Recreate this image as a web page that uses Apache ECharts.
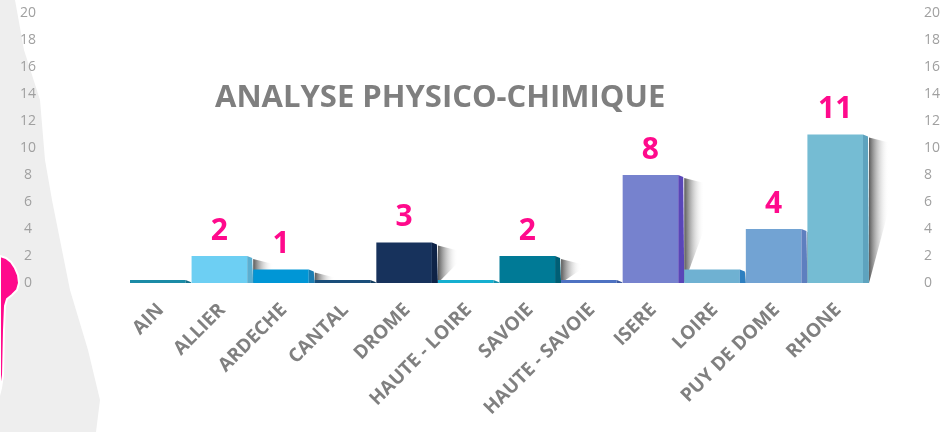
<!DOCTYPE html>
<html>
<head>
<meta charset="utf-8">
<script src="https://cdn.jsdelivr.net/npm/echarts@6/dist/echarts.min.js"></script>
<style>
  html, body { margin: 0; padding: 0; background: #ffffff; }
  #chart { width: 943px; height: 432px; }
</style>
</head>
<body>
<div id="chart"></div>
<script>
// Départements analysés
const categories = ['AIN', 'ALLIER', 'ARDECHE', 'CANTAL', 'DROME', 'HAUTE - LOIRE',
  'SAVOIE', 'HAUTE - SAVOIE', 'ISERE', 'LOIRE', 'PUY DE DOME', 'RHONE'];
// Nombre d'analyses physico-chimiques par département
const values = [0, 2, 1, 0, 3, 0, 2, 0, 8, 1, 4, 11];
// Barres dont la valeur est affichée au-dessus
const labelled = [false, true, true, false, true, false, true, false, true, false, true, true];
// Couleur de face avant puis de face latérale pour chaque barre
const frontColors = ['#1B8BA6', '#6DCFF3', '#0096D6', '#1A4E7A', '#17325C', '#16AFD0',
  '#007A96', '#4E72C2', '#7682CE', '#6FB1D2', '#72A3D3', '#75BCD3'];
const sideColors = ['#15708A', '#5BAED0', '#1B7DB2', '#123C60', '#0E2347', '#128FAA',
  '#005E75', '#3D5AA0', '#5946B8', '#2E7FC0', '#5E7FBF', '#5EA3BE'];

const chart = echarts.init(document.getElementById('chart'));

function renderBar(params, api) {
  const idx = api.value(0);
  const val = api.value(1);
  const base = api.coord([idx, 0]);
  const top = api.coord([idx, val]);
  const band = api.size([1, 0])[0];
  const side = 6;
  const x0 = base[0] - band / 2;
  const w = band - side;
  const h = Math.max(base[1] - top[1], 3);
  const yTop = base[1] - h;
  const children = [];

  if (val > 0) {
    // ombre portée à droite de la barre
    children.push({
      type: 'polygon',
      shape: { points: [
        [x0 + band, yTop + 3], [x0 + band + 20, yTop + 8],
        [x0 + band + 20, yTop + Math.max(h * 0.5, 12)], [x0 + band, base[1]]
      ] },
      style: {
        fill: new echarts.graphic.LinearGradient(0, 0, 1, 0, [
          { offset: 0, color: 'rgba(50,50,50,0.8)' },
          { offset: 1, color: 'rgba(255,255,255,0)' }
        ])
      },
      z2: 1
    });
  }
  // face avant
  children.push({
    type: 'rect',
    shape: { x: x0, y: yTop, width: w, height: h },
    style: { fill: frontColors[idx] },
    z2: 3
  });
  // face latérale avec coin biseauté
  children.push({
    type: 'polygon',
    shape: { points: [
      [x0 + w, yTop], [x0 + w + side - 1, yTop + 2],
      [x0 + w + side, base[1]], [x0 + w, base[1]]
    ] },
    style: { fill: sideColors[idx] },
    z2: 3
  });
  if (labelled[idx]) {
    children.push({
      type: 'text',
      style: {
        text: String(val),
        x: x0 + w / 2,
        y: yTop - 10,
        align: 'center',
        verticalAlign: 'bottom',
        fill: '#FF0A8C',
        font: 'bold 30px "Open Sans", sans-serif'
      },
      z2: 4
    });
  }
  return { type: 'group', children: children };
}

const yAxisBase = {
  type: 'value',
  min: 0,
  max: 20,
  interval: 2,
  splitLine: { show: false },
  axisLine: { show: false },
  axisTick: { show: false }
};

chart.setOption({
  animation: false,
  backgroundColor: '#ffffff',
  title: {
    text: 'ANALYSE PHYSICO-CHIMIQUE',
    left: 210,
    top: 78,
    textStyle: {
      color: '#7F7F7F',
      fontFamily: '"Open Sans", sans-serif',
      fontWeight: 'bold',
      fontSize: 31
    }
  },
  graphic: [
    {
      type: 'polygon',
      z: -10,
      shape: {
        points: [[0, 0], [15, 0], [24, 50], [40, 100], [45, 160], [52, 200], [62, 250],
          [70, 290], [88, 350], [100, 400], [96, 432], [0, 432]]
      },
      style: { fill: '#EEEEEE' }
    },
    {
      type: 'polygon',
      z: -5,
      shape: {
        points: [[0, 256], [6, 258], [11, 262], [15, 268], [18, 275], [19, 283], [17, 290],
          [12, 295], [7, 299], [5, 306], [4, 330], [3, 375], [1, 388], [0, 392]]
      },
      style: { fill: '#FF0A8C', stroke: '#ffffff', lineWidth: 2 }
    }
  ],
  grid: { left: 130, right: 73, top: 13, bottom: 149 },
  xAxis: {
    type: 'category',
    data: categories,
    axisLine: { show: false },
    axisTick: { show: false },
    axisLabel: {
      rotate: 45,
      interval: 0,
      margin: 24,
      color: '#808080',
      fontFamily: '"Open Sans", sans-serif',
      fontWeight: 'bold',
      fontSize: 19
    }
  },
  yAxis: [
    Object.assign({}, yAxisBase, {
      position: 'left',
      axisLabel: {
        margin: 102,
        align: 'center',
        color: '#A0A0A0',
        fontFamily: '"Open Sans", sans-serif',
        fontSize: 14
      }
    }),
    Object.assign({}, yAxisBase, {
      position: 'right',
      axisLabel: {
        margin: 55,
        align: 'left',
        color: '#A0A0A0',
        fontFamily: '"Open Sans", sans-serif',
        fontSize: 14
      }
    })
  ],
  series: [{
    type: 'custom',
    renderItem: renderBar,
    data: values.map((v, i) => [i, v]),
    encode: { x: 0, y: 1 }
  }]
});
</script>
</body>
</html>
